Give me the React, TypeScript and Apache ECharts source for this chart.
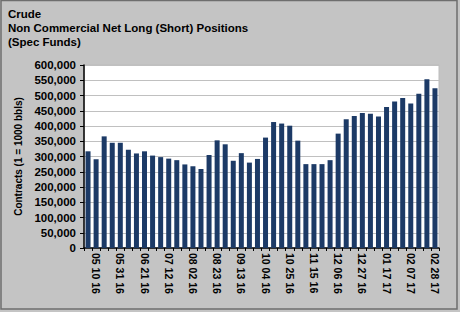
import React, { useEffect, useRef } from "react";
import * as echarts from "echarts";

const titleLines = ["Crude", "Non Commercial Net Long (Short) Positions", "(Spec Funds)"];
const yAxisName = "Contracts (1 = 1000 bbls)";

const weeks = [
  "05 03 16", "05 10 16", "05 17 16", "05 24 16", "05 31 16", "06 07 16", "06 14 16", "06 21 16",
  "06 28 16", "07 05 16", "07 12 16", "07 19 16", "07 26 16", "08 02 16", "08 09 16", "08 16 16",
  "08 23 16", "08 30 16", "09 06 16", "09 13 16", "09 20 16", "09 27 16", "10 04 16", "10 11 16",
  "10 18 16", "10 25 16", "11 01 16", "11 08 16", "11 15 16", "11 22 16", "11 29 16", "12 06 16",
  "12 13 16", "12 20 16", "12 27 16", "01 03 17", "01 10 17", "01 17 17", "01 24 17", "01 31 17",
  "02 07 17", "02 14 17", "02 21 17", "02 28 17",
];

const netLong = [
  317000, 291000, 366000, 345000, 345000, 322000, 310000, 317000,
  303000, 298000, 293000, 288000, 274000, 268000, 259000, 305000,
  353000, 340000, 286000, 311000, 280000, 292000, 362000, 413000,
  408000, 401000, 352000, 275000, 275000, 275000, 288000, 375000,
  422000, 433000, 443000, 440000, 431000, 462000, 480000, 492000,
  474000, 506000, 553000, 524000,
];

const yMax = 600000;
const yStep = 50000;

export default function App() {
  const ref = useRef<HTMLDivElement>(null);

  useEffect(() => {
    if (!ref.current) return;
    const chart = echarts.init(ref.current, undefined, { renderer: "svg" });
    const font = "Arial, 'Liberation Sans', sans-serif";
    chart.setOption({
      animation: false,
      backgroundColor: "#c4c4c4",
      textStyle: { fontFamily: font },
      graphic: [
        {
          type: "rect",
          shape: { x: 1, y: 0.5, width: 456, height: 308.5 },
          style: { fill: "none", stroke: "#6e6e6e", lineWidth: 1.5 },
          silent: true,
        },
        {
          type: "text",
          left: 8,
          top: 7,
          style: {
            text: titleLines.join("\n"),
            font: `bold 11.5px ${font}`,
            fill: "#000",
            lineHeight: 14,
          },
        },
      ],
      grid: {
        left: 84,
        right: 21,
        top: 65,
        bottom: 64,
        show: true,
        backgroundColor: "#ffffff",
        borderColor: "#bdbdbd",
        borderWidth: 1,
      },
      xAxis: {
        type: "category",
        data: weeks,
        boundaryGap: true,
        axisLine: { show: true, lineStyle: { color: "#000", width: 1.5 } },
        axisTick: { show: true, length: 3, interval: 0, lineStyle: { color: "#000" } },
        axisLabel: {
          interval: (i: number) => i % 3 === 1,
          rotate: -90,
          fontSize: 10.5,
          fontWeight: "bold",
          color: "#000",
          margin: 5,
        },
        splitLine: { show: false },
      },
      yAxis: {
        type: "value",
        min: 0,
        max: yMax,
        interval: yStep,
        name: yAxisName,
        nameLocation: "middle",
        nameGap: 60,
        nameTextStyle: { fontSize: 10, fontWeight: "bold", color: "#000" },
        axisLine: { show: true, lineStyle: { color: "#000", width: 1.5 } },
        axisTick: { show: true, length: 4, lineStyle: { color: "#000" } },
        axisLabel: {
          fontSize: 11.5,
          fontWeight: "bold",
          color: "#000",
          margin: 8,
          formatter: (v: number) => v.toLocaleString("en-US"),
        },
        splitLine: { show: true, lineStyle: { color: "#c0c0c0", width: 1 } },
      },
      series: [
        {
          type: "bar",
          data: netLong,
          barCategoryGap: "38%",
          itemStyle: { color: "#1c3a66" },
        },
      ],
    });
    return () => chart.dispose();
  }, []);

  return (
    <div
      ref={ref}
      style={{ position: "absolute", left: 0, top: 0, width: 460, height: 312 }}
    />
  );
}
